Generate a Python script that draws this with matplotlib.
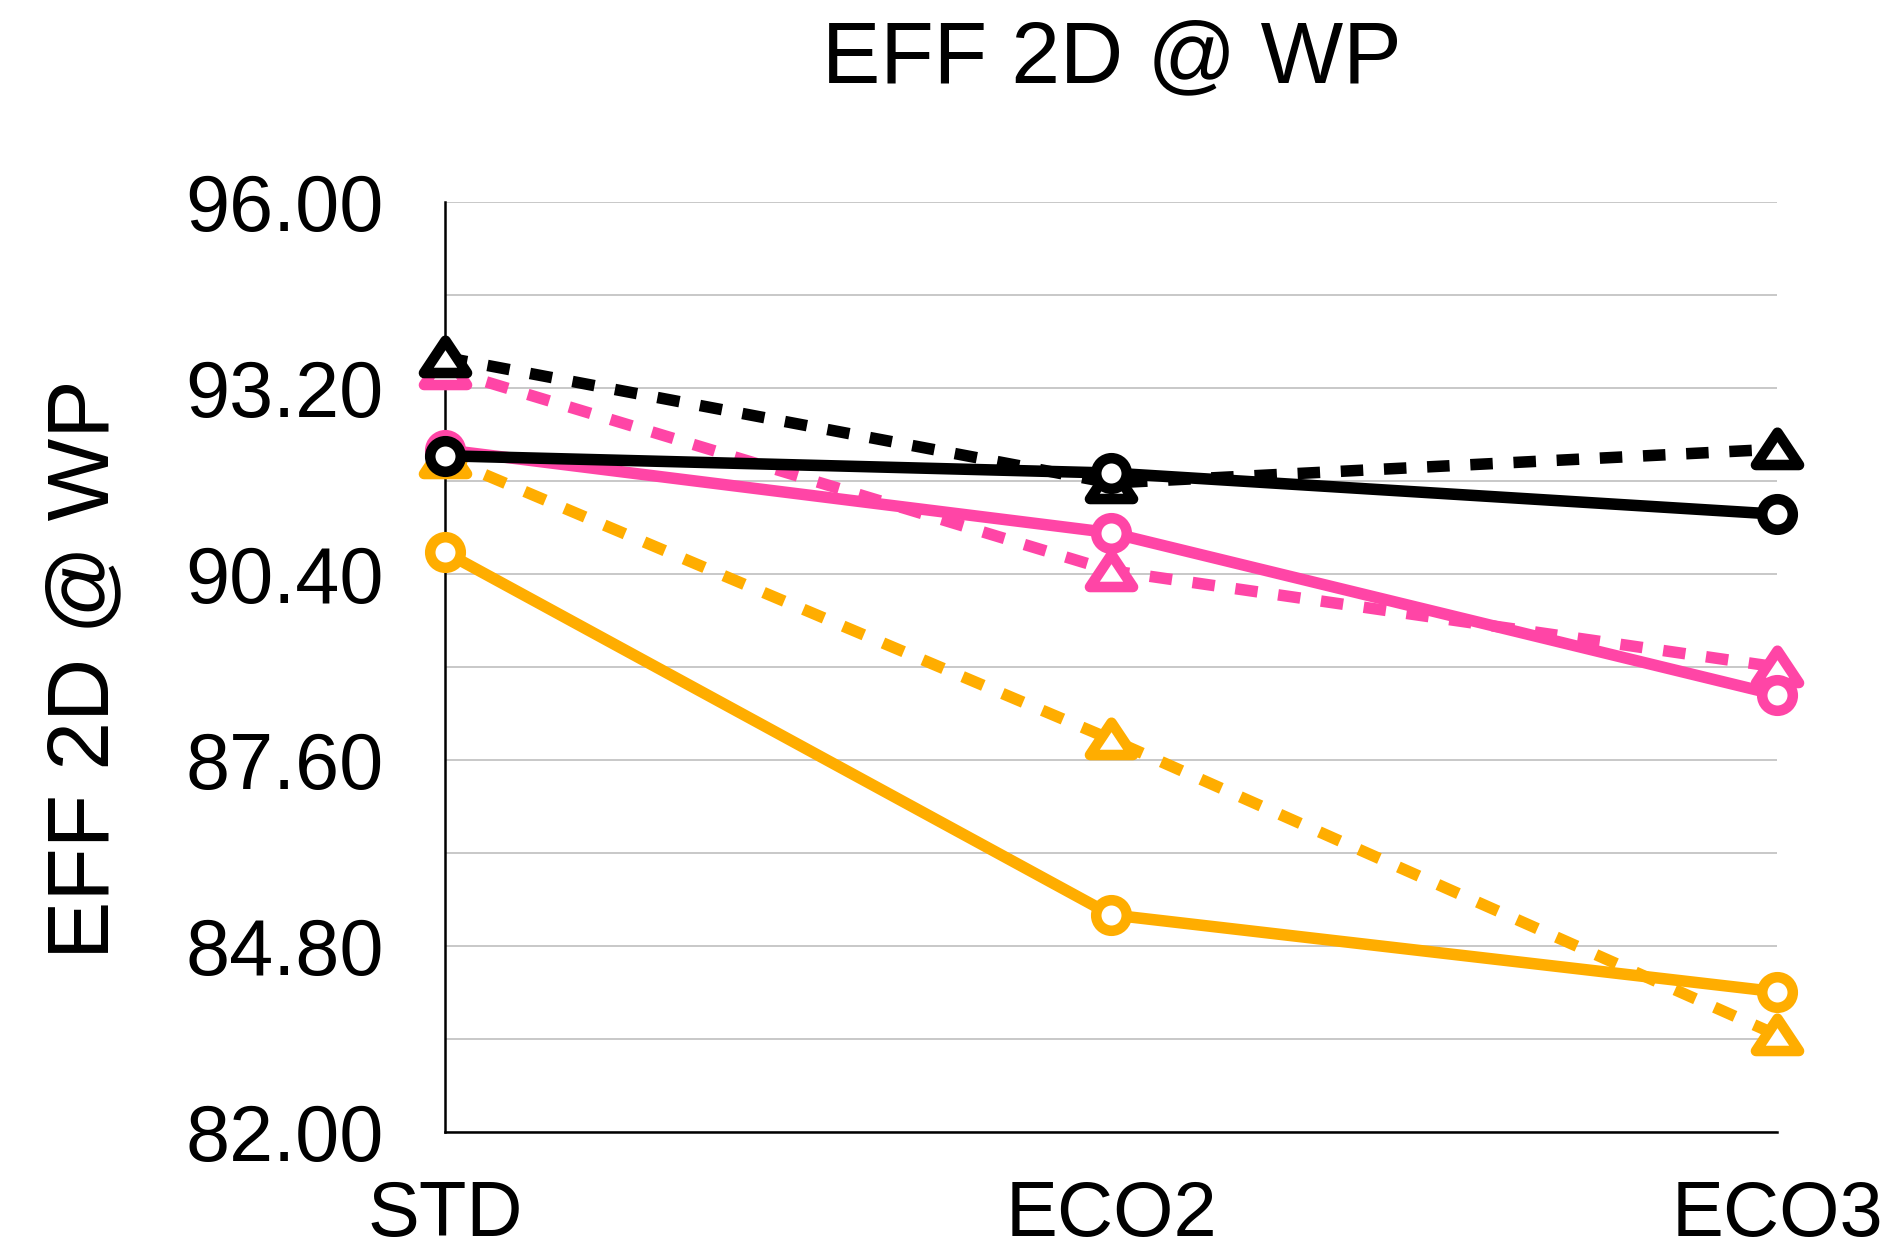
import matplotlib
matplotlib.use("Agg")
import matplotlib.pyplot as plt
from matplotlib.markers import MarkerStyle
from matplotlib.path import Path
import numpy as np

plt.rcParams['font.family'] = ['Liberation Sans', 'DejaVu Sans']

categories = ["STD", "ECO2", "ECO3"]
y_ticks = [82.00, 84.80, 87.60, 90.40, 93.20, 96.00]

# series values (solid = circle markers, dashed = triangle markers)
orange_dashed = [92.15, 87.91, 83.46]
orange_solid = [90.73, 85.27, 84.11]
pink_dashed = [93.48, 90.45, 89.00]
pink_solid = [92.27, 91.02, 88.58]
black_dashed = [93.66, 91.77, 92.28]
black_solid = [92.18, 91.92, 91.30]

ORANGE = "#FFAD00"
PINK = "#FF45A6"
BLACK = "#000000"

fig = plt.figure(figsize=(18.85, 12.6), dpi=100)
ax = fig.add_axes([445 / 1885, 1 - 1132 / 1260, (1777 - 445) / 1885, (1132 - 202) / 1260])

x = np.arange(len(categories))

# closed triangle outline, wider than tall
tri_path = Path([(-1.0, -0.72), (1.0, -0.72), (0.0, 0.78), (-1.0, -0.72)],
                [Path.MOVETO, Path.LINETO, Path.LINETO, Path.CLOSEPOLY])
tri_marker = MarkerStyle(tri_path, joinstyle="miter")

series = [
    (orange_dashed, ORANGE, "dashed"),
    (orange_solid, ORANGE, "solid"),
    (pink_dashed, PINK, "dashed"),
    (pink_solid, PINK, "solid"),
    (black_dashed, BLACK, "dashed"),
    (black_solid, BLACK, "solid"),
]

z = 3
for vals, color, style in series:
    if style == "dashed":
        ax.plot(x, vals, color=color, lw=8.3, linestyle=(0, (1.95, 1.8)),
                dash_capstyle="butt", marker=tri_marker, markersize=31,
                markerfacecolor="white", markeredgecolor=color,
                markeredgewidth=7.6, clip_on=False, zorder=z)
    else:
        ax.plot(x, vals, color=color, lw=8.3, solid_capstyle="butt",
                marker="o", markersize=22, markerfacecolor="white",
                markeredgecolor=color, markeredgewidth=7.6,
                clip_on=False, zorder=z)
    z += 1

ax.set_xlim(0, len(categories) - 1)
ax.set_ylim(y_ticks[0], y_ticks[-1])
ax.set_xticks(x)
ax.set_xticklabels(categories)
ax.set_yticks(y_ticks)
ax.set_yticklabels([f"{v:.2f}" for v in y_ticks])
ax.set_yticks(np.arange(82.0, 96.01, 1.4), minor=True)

ax.grid(True, which="both", axis="y", color="#C8C8C8", lw=1.4, zorder=0)
ax.set_axisbelow(True)

for side in ["top", "right"]:
    ax.spines[side].set_visible(False)
for side in ["left", "bottom"]:
    ax.spines[side].set_color("black")
    ax.spines[side].set_linewidth(1.8)
    ax.spines[side].set_zorder(2)

ax.tick_params(axis="y", which="both", length=0, labelsize=57, pad=44)
ax.tick_params(axis="x", which="both", length=0, labelsize=56, pad=34)

fig.text(1112 / 1885, 1 - 60 / 1260, "EFF 2D @ WP", fontsize=63,
         ha="center", va="center")
fig.text(86 / 1885, 1 - 669 / 1260, "EFF 2D @ WP", fontsize=63,
         ha="center", va="center", rotation=90)

fig.savefig("out.png", dpi=100, facecolor="white")
